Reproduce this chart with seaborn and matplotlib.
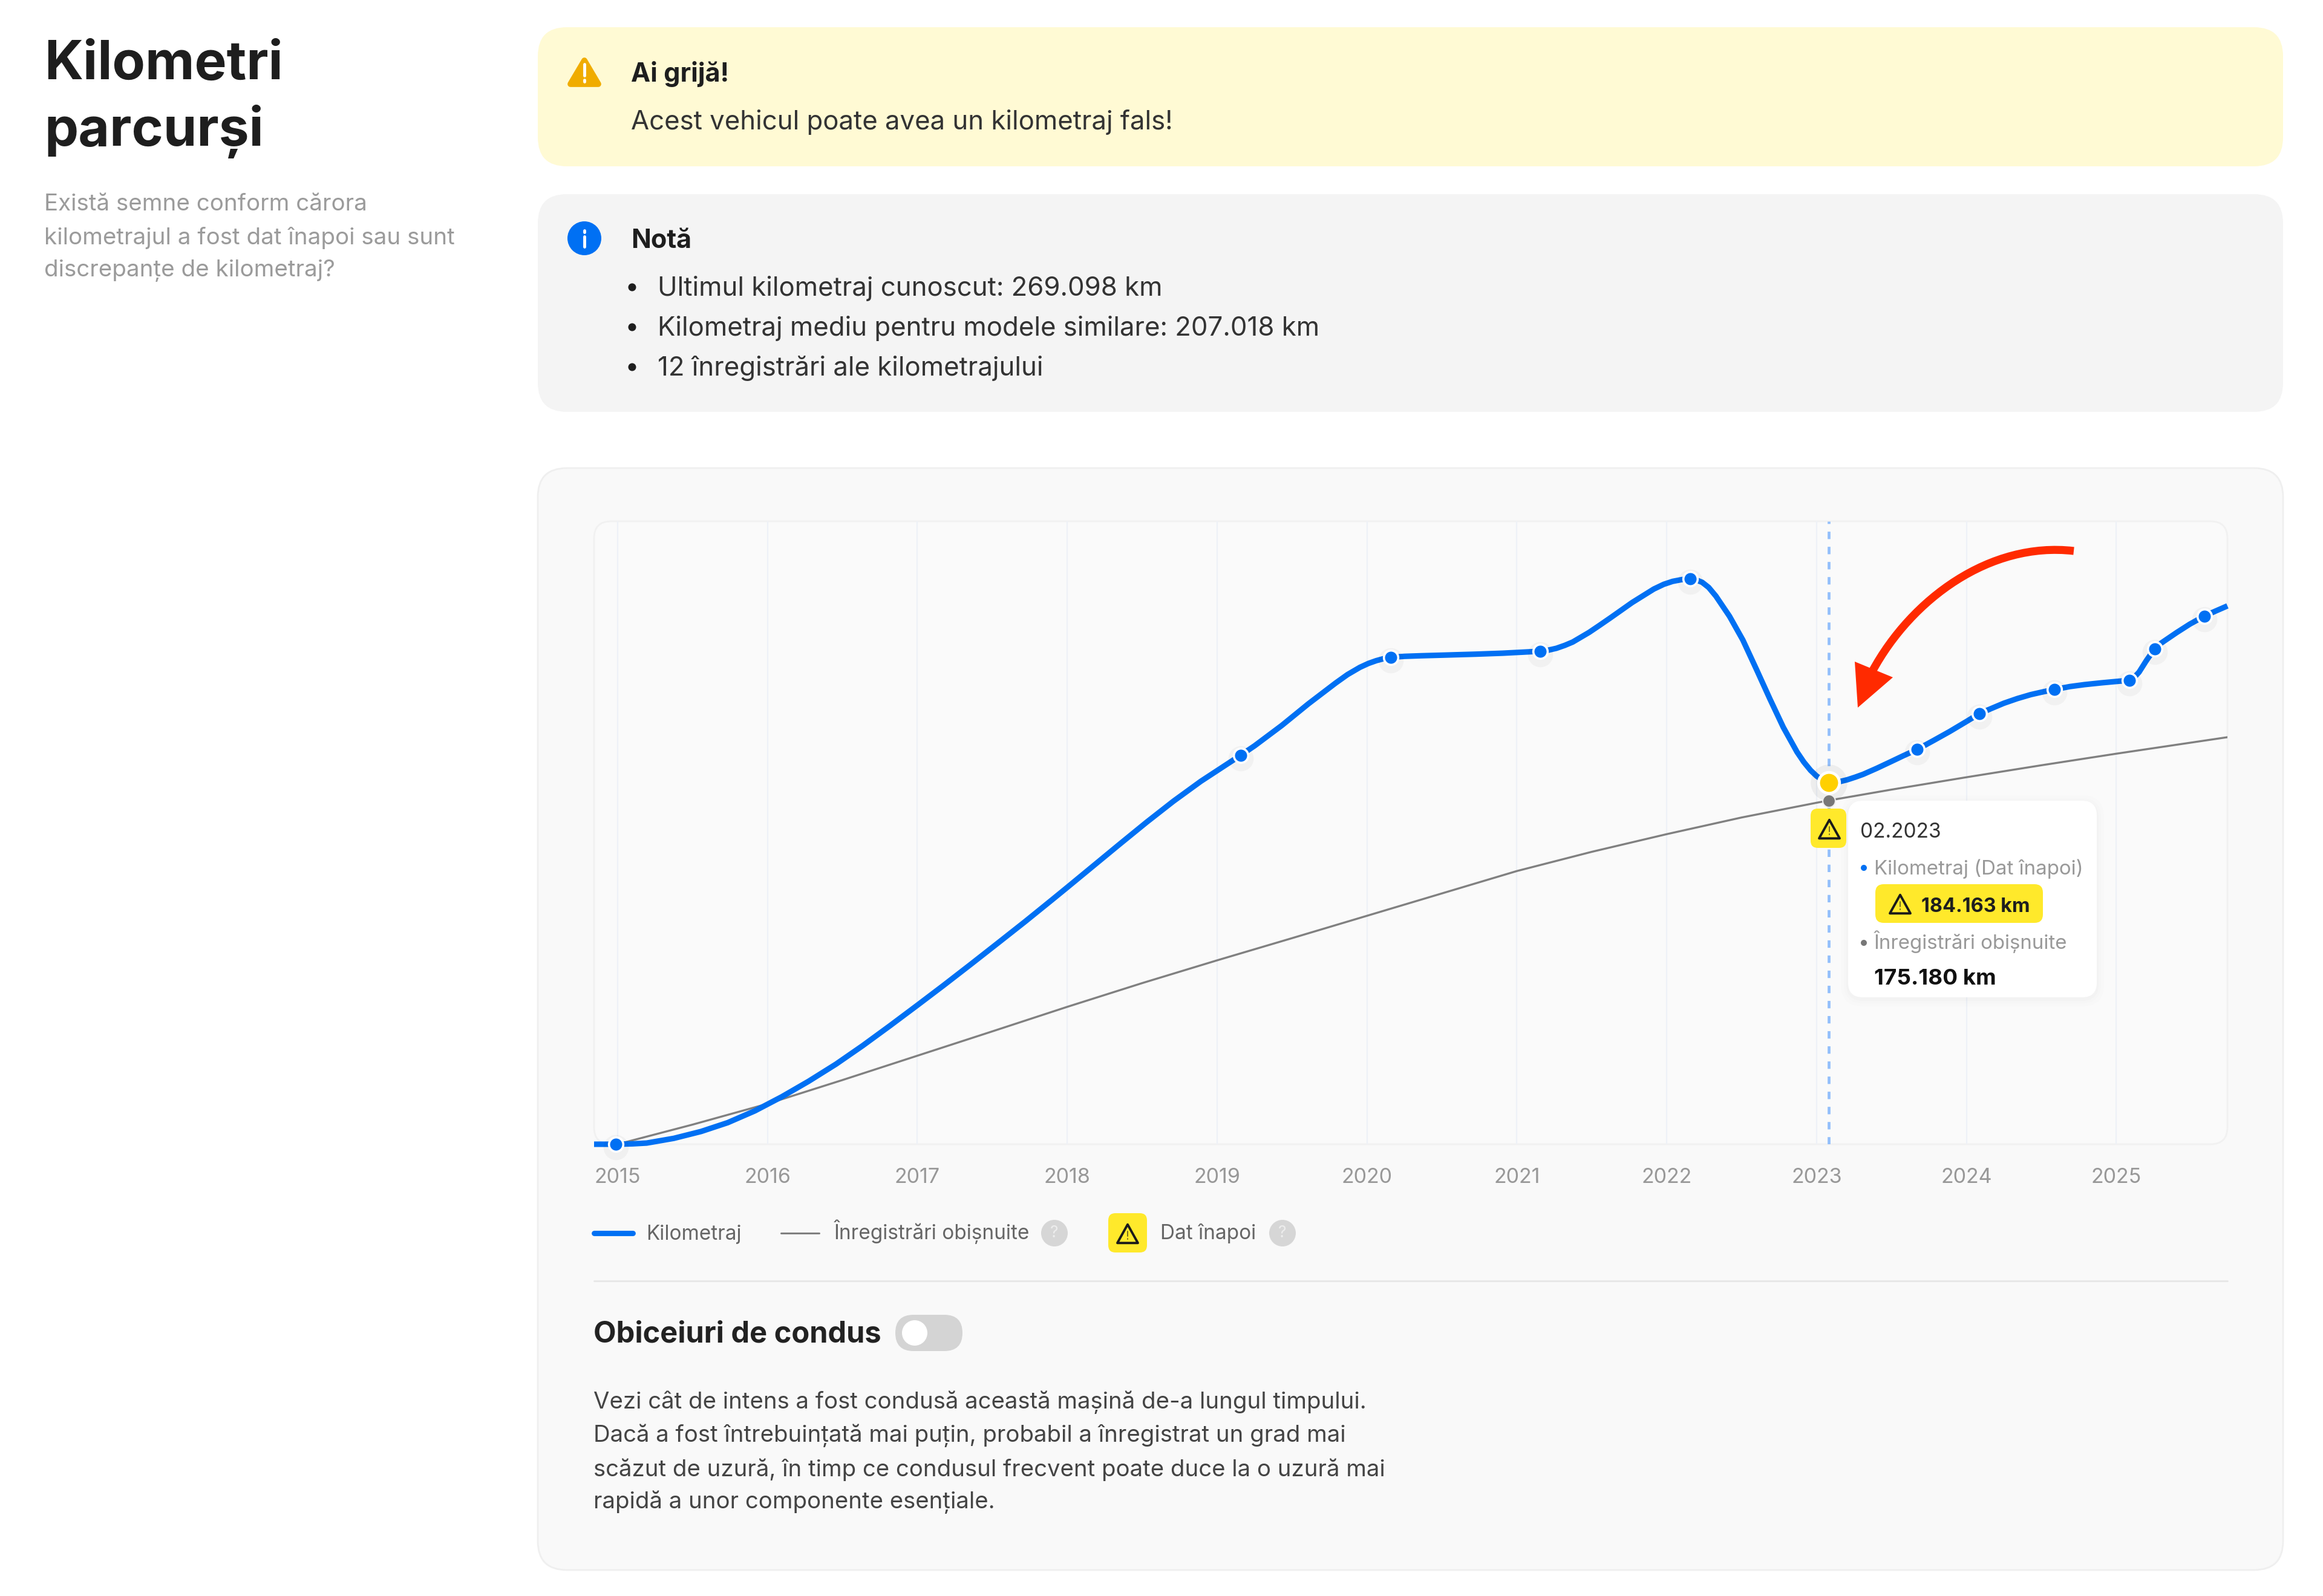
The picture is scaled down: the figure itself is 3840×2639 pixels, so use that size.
import pandas as pd
import matplotlib
matplotlib.use("Agg")
import matplotlib.pyplot as plt
import seaborn as sns
from matplotlib.patches import FancyBboxPatch, Polygon, PathPatch, Circle
from matplotlib.path import Path

# curve (year, km)
km_years = [2014.843, 2014.99, 2015.1, 2015.194, 2015.375, 2015.557, 2015.735, 2015.916, 2016.096, 2016.275, 2016.457,
            2016.635, 2016.816, 2016.998, 2017.176, 2017.357, 2017.539, 2017.720, 2017.898, 2017.999, 2018.169,
            2018.350, 2018.530, 2018.709, 2018.891, 2019.071, 2019.157, 2019.250, 2019.432, 2019.609, 2019.791,
            2019.87, 2019.953, 2020.01, 2020.062, 2020.11, 2020.158, 2020.25, 2020.364, 2020.546, 2020.724, 2020.905,
            2021.157, 2021.21, 2021.264, 2021.32, 2021.373, 2021.482, 2021.55, 2021.626, 2021.769, 2021.914, 2021.98,
            2022.039, 2022.10, 2022.156, 2022.195, 2022.237, 2022.28, 2022.328, 2022.419, 2022.508, 2022.599, 2022.689,
            2022.778, 2022.869, 2022.915, 2022.960, 2023.00, 2023.04, 2023.083, 2023.14, 2023.204, 2023.26, 2023.311,
            2023.40, 2023.492, 2023.58, 2023.672, 2023.78, 2023.888, 2024.0, 2024.086, 2024.165, 2024.249, 2024.34,
            2024.429, 2024.51, 2024.586, 2024.69, 2024.788, 2024.90, 2025.0, 2025.087, 2025.12, 2025.151, 2025.20,
            2025.255, 2025.30, 2025.35, 2025.402, 2025.49, 2025.587, 2025.66, 2025.741]
km_values = [0, 0, 200, 600, 3000, 6500, 11000, 17000, 24200, 32100, 40800,
             50200, 60300, 70700, 81000, 91700, 102600, 113500, 124500, 130800, 141500,
             152900, 164100, 174800, 184900, 193900, 198200, 203000, 213400, 224400, 235000,
             239300, 243000, 245000, 246400, 247400, 248100, 248600, 248900, 249300, 249700, 250200,
             251200, 251750, 252700, 254200, 255900, 260800, 264300, 268300, 276000, 282900, 285300,
             286800, 287700, 288100, 287600, 286300, 283700, 279300, 269000, 256900, 241900, 226800,
             212400, 199900, 194700, 190500, 187600, 185500, 184163, 184500, 185700, 187100, 188500,
             191500, 194800, 198000, 201200, 205700, 210300, 215400, 219400, 222000, 224700, 227100,
             229100, 230500, 231700, 233200, 234200, 235100, 235800, 236400, 238000, 240500, 246400,
             252400, 255400, 258000, 260700, 265000, 269098, 271600, 274300]

typical_years = [2015.0, 2015.5, 2016.0, 2016.5, 2017.0, 2017.5, 2018.0, 2018.5, 2019.0, 2019.5, 2020.0,
                 2020.5, 2021.0, 2021.5, 2022.0, 2022.5, 2023.0, 2023.083, 2023.5, 2024.0, 2024.5, 2025.0, 2025.741]
typical_values = [0, 10000, 20600, 32700, 45100, 57500, 70000, 82100, 93700, 105000, 116400,
                  127800, 139200, 149000, 158000, 166500, 174000, 175180, 180700, 187000, 193100, 199000, 207400]

# the 12 recorded readings
record_years = [2014.99, 2019.157, 2020.158, 2021.157, 2022.156, 2023.672, 2024.086, 2024.586, 2025.087, 2025.255, 2025.587]
record_values = [0, 198200, 248100, 251200, 288100, 201200, 219400, 231700, 236400, 252400, 269098]

rollback_year = 2023.083
rollback_km = 184163
typical_km = 175180
tick_years = [2015, 2016, 2017, 2018, 2019, 2020, 2021, 2022, 2023, 2024, 2025]

BLUE = "#0070F3"
GREY = "#808080"
YELLOW = "#FFE92B"
FONT = ["Inter", "DejaVu Sans"]

sns.set_theme(style="white")
plt.rcParams["font.family"] = FONT

fig = plt.figure(figsize=(38.4, 26.39), dpi=100, facecolor="white")

# page axes in pixels, the panels and texts go here
ui = fig.add_axes([0, 0, 1, 1], zorder=0)
ui.set_xlim(0, 3840)
ui.set_ylim(2639, 0)
ui.axis("off")

# overlay for tooltip and arrow, same pixel space
top = fig.add_axes([0, 0, 1, 1], zorder=5)
top.set_xlim(0, 3840)
top.set_ylim(2639, 0)
top.axis("off")
top.patch.set_alpha(0)


def box(ax, x0, y0, x1, y1, r, fc, ec="none", lw=0, alpha=1, z=1):
    p = FancyBboxPatch((x0, y0), x1 - x0, y1 - y0, boxstyle=f"round,pad=0,rounding_size={r}",
                       fc=fc, ec=ec, lw=lw, alpha=alpha, zorder=z)
    ax.add_patch(p)


def label(ax, x, y, s, size, color="#222222", weight="normal", ha="left", z=6):
    ax.text(x, y + 4, s, fontsize=size, color=color, fontweight=weight, ha=ha, va="center", zorder=z)


def warn_icon(ax, cx, cy, w, color="#1A1A1A"):
    h = w * 0.9
    tri = Polygon([(cx, cy - h / 2), (cx + w / 2, cy + h / 2), (cx - w / 2, cy + h / 2)], closed=True,
                  fc="none", ec=color, lw=2.8, joinstyle="round", zorder=7)
    ax.add_patch(tri)
    ax.plot([cx, cx], [cy - h * 0.12, cy + h * 0.14], color=color, lw=1.4, alpha=0.6, zorder=7)
    ax.plot([cx, cx], [cy + h * 0.27, cy + h * 0.3], color=color, lw=1.4, alpha=0.6, zorder=7)


# left column
label(ui, 73, 103, "Kilometri", 64.2, "#1E1E1E", "bold")
label(ui, 73, 213, "parcurși", 64.2, "#1E1E1E", "bold")
for y, s in zip([334, 389, 444], ["Există semne conform cărora",
                                  "kilometrajul a fost dat înapoi sau sunt",
                                  "discrepanțe de kilometraj?"]):
    label(ui, 73, y, s, 27.75, "#9B9B9B")

# warning panel
box(ui, 889, 45, 3774, 275, 48, "#FFFAD4")
ui.add_patch(Polygon([(966, 100), (989, 139), (943, 139)], closed=True, fc="#F0AC00", ec="#F0AC00",
                     lw=7, joinstyle="round", zorder=3))
ui.plot([966, 966], [106, 125], color="white", lw=3.5, zorder=4)
ui.plot([966, 966], [132, 135], color="white", lw=3.5, zorder=4)
label(ui, 1043, 118, "Ai grijă!", 31, "#1E1E1E", "bold")
label(ui, 1043, 198, "Acest vehicul poate avea un kilometraj fals!", 31.5, "#333333")

# note panel
box(ui, 889, 321, 3774, 681, 48, "#F4F4F4")
ui.add_patch(Circle((966, 394), 28, fc=BLUE, ec="none", zorder=3))
ui.plot([966, 966], [391, 408], color="white", lw=3.5, zorder=4)
ui.plot([966, 966], [381, 384], color="white", lw=3.5, zorder=4)
label(ui, 1043, 394, "Notă", 31, "#1E1E1E", "bold")
for y, s in zip([473, 539, 605], ["Ultimul kilometraj cunoscut: 269.098 km",
                                  "Kilometraj mediu pentru modele similare: 207.018 km",
                                  "12 înregistrări ale kilometrajului"]):
    ui.add_patch(Circle((1045, y + 2), 6.5, fc="#1E1E1E", ec="none", zorder=3))
    label(ui, 1087, y, s, 31.5, "#333333")

# chart panel
box(ui, 889, 774, 3774, 2596, 48, "#F9F9F9", ec="#EFEFEF", lw=2)
box(ui, 982, 862, 3682, 1892, 28, "#FAFAFA", ec="#F1F1F1", lw=2)

# chart itself
ax = fig.add_axes([982 / 3840, 1 - 1892 / 2639, 2700 / 3840, 1030 / 2639], zorder=2)
ax.patch.set_alpha(0)
for year in tick_years:
    ax.axvline(year, color="#EEF1F7", lw=1.6, zorder=1)
ax.axvline(rollback_year, color="#93BFFB", lw=3.4, ls=(0, (2.6, 2.7)), zorder=2)

km_df = pd.DataFrame({"year": km_years, "km": km_values})
typical_df = pd.DataFrame({"year": typical_years, "km": typical_values})
records_df = pd.DataFrame({"year": record_years, "km": record_values})

sns.lineplot(data=typical_df, x="year", y="km", color=GREY, lw=2.4, estimator=None, sort=False, ax=ax, zorder=3)
sns.lineplot(data=km_df, x="year", y="km", color=BLUE, lw=6.6, estimator=None, sort=False, ax=ax, zorder=4,
             solid_joinstyle="round", solid_capstyle="butt", clip_on=False)
# soft shadow under the dots
ax.scatter(record_years, [v - 1500 for v in record_values], s=900, color="black", alpha=0.035, lw=0, zorder=5, clip_on=False)
sns.scatterplot(data=records_df, x="year", y="km", s=290, color=BLUE, edgecolor="white", linewidth=2.6, ax=ax,
                zorder=6, clip_on=False)
ax.scatter([rollback_year], [typical_km], s=225, color="#777777", edgecolor="#EDEDED", linewidth=1.5, zorder=6)
ax.scatter([rollback_year], [rollback_km], s=1900, color="black", alpha=0.05, lw=0, zorder=5)
ax.scatter([rollback_year], [rollback_km], s=620, color="#FFD000", edgecolor="white", linewidth=3.4, zorder=7)

ax.set_xlim(2014.843, 2025.741)
ax.set_ylim(0, 317400)
ax.set_xticks(tick_years)
ax.set_xticklabels([str(y) for y in tick_years], fontsize=24.5, color="#989898")
ax.set_yticks([])
ax.set_xlabel("")
ax.set_ylabel("")
ax.tick_params(axis="x", length=0, pad=28)
sns.despine(ax=ax, left=True, bottom=True)

# legend row
ui.plot([982, 1046], [2039, 2039], color=BLUE, lw=6.4, solid_capstyle="round", zorder=3)
label(ui, 1068, 2037, "Kilometraj", 24, "#666666")
ui.plot([1291, 1354], [2039, 2039], color=GREY, lw=2.2, zorder=3)
label(ui, 1379, 2033, "Înregistrări obișnuite", 24, "#666666")
ui.add_patch(Circle((1743, 2039), 22, fc="#D6D6D6", ec="none", zorder=3))
label(ui, 1743, 2035, "?", 19, "#EDEDED", ha="center")
box(ui, 1832, 2006, 1896, 2071, 12, YELLOW, z=3)
warn_icon(ui, 1864, 2040, 34)
label(ui, 1918, 2035, "Dat înapoi", 24, "#666666")
ui.add_patch(Circle((2120, 2039), 22, fc="#D6D6D6", ec="none", zorder=3))
label(ui, 2120, 2035, "?", 19, "#EDEDED", ha="center")
ui.plot([982, 3682], [2118, 2118], color="#E6E6E6", lw=2, zorder=3)

# driving habits section
label(ui, 981, 2203, "Obiceiuri de condus", 35.2, "#222222", "bold")
box(ui, 1480, 2174, 1591, 2234, 30, "#D4D4D4", z=3)
ui.add_patch(Circle((1512, 2204), 21, fc="white", ec="none", zorder=4))
for y, s in zip([2314, 2369, 2425, 2479],
                ["Vezi cât de intens a fost condusă această mașină de-a lungul timpului.",
                 "Dacă a fost întrebuințată mai puțin, probabil a înregistrat un grad mai",
                 "scăzut de uzură, în timp ce condusul frecvent poate duce la o uzură mai",
                 "rapidă a unor componente esențiale."]):
    label(ui, 981, y + 1, s, 27.6, "#444444")

# tooltip
for grow, a in [(12, 0.006), (7, 0.009), (3, 0.012)]:
    box(top, 3055 - grow, 1324 - grow + 3, 3466 + grow, 1649 + grow + 3, 24 + grow, "black", alpha=a, z=2)
box(top, 3055, 1324, 3466, 1649, 24, "white", z=3)
box(top, 2993, 1337, 3052, 1402, 12, YELLOW, z=4)
warn_icon(top, 3024, 1371, 34)
label(top, 3075, 1372, "02.2023", 24, "#333333")
top.add_patch(Circle((3081, 1435), 5, fc=BLUE, ec="none", zorder=5))
label(top, 3098, 1433, "Kilometraj (Dat înapoi)", 23.8, "#999999")
box(top, 3100, 1462, 3377, 1526, 14, YELLOW, z=4)
warn_icon(top, 3141, 1495, 34)
label(top, 3176, 1495, "184.163 km", 23.3, "#1E1E1E", "bold")
top.add_patch(Circle((3081, 1559), 5, fc="#777777", ec="none", zorder=5))
label(top, 3098, 1553, "Înregistrări obișnuite", 23.8, "#999999")
label(top, 3098, 1614, "175.180 km", 26.5, "#111111", "bold")

# red arrow pointing at the rollback
shaft = Path([(3428, 911), (3290, 895), (3160, 990), (3095, 1110)],
             [Path.MOVETO, Path.CURVE4, Path.CURVE4, Path.CURVE4])
top.add_patch(PathPatch(shaft, fc="none", ec="#FF2A00", lw=9.5, capstyle="butt", zorder=8))
top.add_patch(Polygon([(3066, 1094), (3129, 1120), (3071, 1170)], closed=True, fc="#FF2A00", ec="none", zorder=8))

fig.savefig("out.png", dpi=100)
